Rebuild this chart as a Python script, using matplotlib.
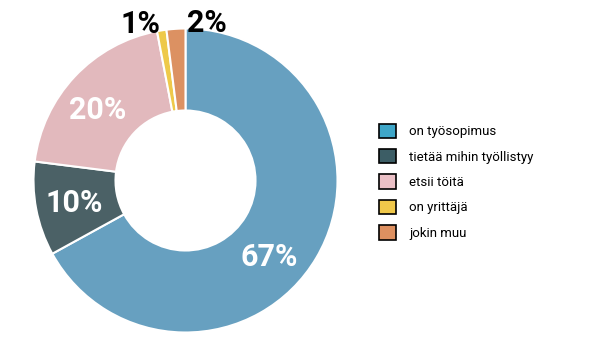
import matplotlib.pyplot as plt
from matplotlib.patches import Patch

plt.rcParams["font.family"] = ["Roboto", "DejaVu Sans"]

labels = ["on työsopimus", "tietää mihin työllistyy", "etsii töitä", "on yrittäjä", "jokin muu"]
shares = [67, 10, 20, 1, 2]
pct_labels = ["67%", "10%", "20%", "1%", "2%"]

wedge_colors = ["#67a0c0", "#4b6166", "#e2b9bd", "#eec94a", "#dc9162"]
legend_colors = ["#3ea6c8", "#3c5d65", "#ebc0c6", "#f0c84a", "#de9060"]
text_colors = ["white", "white", "white", "black", "black"]
# label anchor points (pixels from top-left)
text_pos = [(269, 257), (74, 203), (98, 110), (140, 24), (207, 23)]

W, H = 600, 353
fig = plt.figure(figsize=(6, 3.53), dpi=100)
ax = fig.add_axes([0, 0, 1, 1])

cx, cy, r = 185.5, H - 180.5, 152
wedges, _ = ax.pie(
    shares,
    colors=wedge_colors,
    startangle=90,
    counterclock=False,
    center=(cx, cy),
    radius=r,
    wedgeprops=dict(width=r - 70, edgecolor="white", linewidth=1.5),
    frame=True,
)
ax.set_xlim(0, W)
ax.set_ylim(0, H)
ax.set_aspect("equal")
ax.axis("off")

for txt, (x, y), c in zip(pct_labels, text_pos, text_colors):
    ax.text(x, H - y, txt, color=c, fontsize=22, fontweight="bold",
            ha="center", va="center")

handles = [Patch(facecolor=c, edgecolor="black", linewidth=1.2) for c in legend_colors]
fig.legend(
    handles, labels,
    loc="upper left",
    bbox_to_anchor=(372 / W, 1 - 117 / H),
    frameon=False,
    fontsize=9.5,
    handlelength=1.3,
    handleheight=1.3,
    handletextpad=1.0,
    labelspacing=0.82,
    borderpad=0,
)

fig.savefig("out.png", dpi=100)
